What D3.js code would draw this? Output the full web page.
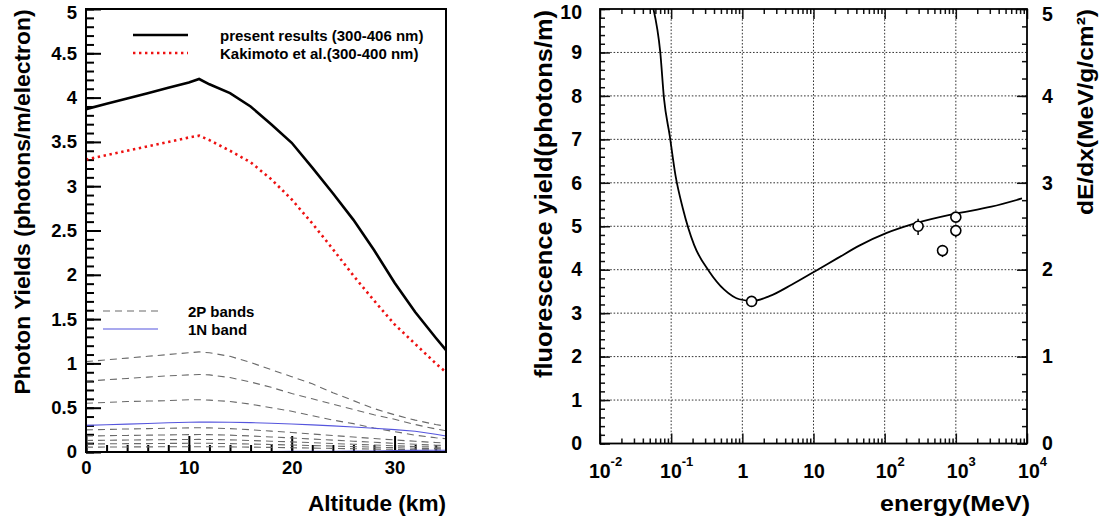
<!DOCTYPE html>
<html>
<head>
<meta charset="utf-8">
<script src="https://cdn.jsdelivr.net/npm/d3@7"></script>
<style>
  html, body { margin: 0; padding: 0; background: #fff; }
  svg { display: block; }
  text { font-family: "Liberation Sans", Arial, Helvetica, sans-serif; font-weight: bold; fill: #000; }
</style>
</head>
<body>
<svg id="chart" width="1112" height="524"></svg>
<script>
// ---------------- Left panel data ----------------
const altitude = [0, 2, 4, 6, 8, 10, 11, 12, 14, 16, 18, 20, 22, 24, 26, 28, 30, 32, 34, 35];
const presentResults = [3.87, 3.93, 3.99, 4.05, 4.11, 4.17, 4.21, 4.15, 4.05, 3.90, 3.70, 3.49, 3.21, 2.92, 2.62, 2.28, 1.91, 1.58, 1.29, 1.15];
const kakimoto = [3.30, 3.35, 3.40, 3.45, 3.50, 3.55, 3.57, 3.52, 3.40, 3.27, 3.08, 2.85, 2.58, 2.29, 1.99, 1.71, 1.44, 1.22, 1.00, 0.90];
const p2Band1 = [1.02, 1.04, 1.06, 1.08, 1.10, 1.12, 1.13, 1.12, 1.08, 1.01, 0.93, 0.85, 0.77, 0.67, 0.58, 0.49, 0.42, 0.36, 0.31, 0.29];
const p2Band2 = [0.80, 0.815, 0.83, 0.845, 0.86, 0.87, 0.875, 0.87, 0.84, 0.79, 0.73, 0.66, 0.60, 0.54, 0.48, 0.42, 0.37, 0.31, 0.26, 0.24];
const p2Band3 = [0.55, 0.56, 0.57, 0.575, 0.58, 0.59, 0.59, 0.585, 0.57, 0.54, 0.50, 0.46, 0.41, 0.36, 0.32, 0.27, 0.23, 0.19, 0.16, 0.15];
const p2Band4 = [0.25, 0.255, 0.26, 0.264, 0.268, 0.272, 0.274, 0.272, 0.264, 0.251, 0.236, 0.22, 0.203, 0.186, 0.169, 0.152, 0.136, 0.121, 0.107, 0.10];
const p2Band5 = [0.18, 0.184, 0.187, 0.19, 0.193, 0.196, 0.197, 0.196, 0.19, 0.181, 0.17, 0.158, 0.146, 0.134, 0.122, 0.11, 0.098, 0.087, 0.077, 0.072];
const p2Band6 = [0.13, 0.133, 0.135, 0.137, 0.139, 0.141, 0.142, 0.141, 0.137, 0.13, 0.122, 0.114, 0.105, 0.096, 0.087, 0.079, 0.07, 0.062, 0.055, 0.052];
const p2Band7 = [0.09, 0.092, 0.094, 0.095, 0.097, 0.098, 0.099, 0.098, 0.095, 0.09, 0.085, 0.079, 0.073, 0.067, 0.061, 0.055, 0.049, 0.043, 0.038, 0.036];
const p2Band8 = [0.055, 0.056, 0.057, 0.058, 0.059, 0.06, 0.06, 0.06, 0.058, 0.055, 0.052, 0.048, 0.044, 0.041, 0.037, 0.033, 0.03, 0.026, 0.023, 0.022];
const n1Band = [0.30, 0.307, 0.315, 0.322, 0.33, 0.335, 0.337, 0.337, 0.336, 0.332, 0.325, 0.316, 0.306, 0.295, 0.282, 0.268, 0.253, 0.234, 0.20, 0.18];
const n1BandB = [0.006, 0.006, 0.006, 0.006, 0.006, 0.006, 0.006, 0.006, 0.006, 0.006, 0.006, 0.007, 0.008, 0.009, 0.01, 0.012, 0.015, 0.018, 0.02, 0.02];
const leftYTicks = [0, 0.5, 1, 1.5, 2, 2.5, 3, 3.5, 4, 4.5, 5];
const leftXTicks = [0, 10, 20, 30];
const legendTop = ["present results (300-406 nm)", "Kakimoto et al.(300-400 nm)"];
const legendBottom = ["2P bands", "1N band"];

// ---------------- Right panel data ----------------
const energyMeV = [0.0564, 0.0703, 0.0794, 0.0953, 0.115, 0.146, 0.21, 0.342, 0.557, 0.908, 1.39, 2.40, 4.99, 10.4, 21.5, 44.7, 105, 275, 933, 3162, 8511];
const yieldCurve = [10.0, 9.0, 7.93, 7.09, 6.17, 5.41, 4.57, 3.96, 3.54, 3.32, 3.28, 3.39, 3.66, 3.96, 4.26, 4.56, 4.84, 5.07, 5.28, 5.45, 5.64];
const pointE = [1.35, 295, 650, 1000, 1000];
const pointY = [3.27, 5.00, 4.44, 5.21, 4.90];
const pointLo = [3.20, 4.80, 4.29, 5.09, 4.75];
const pointHi = [3.34, 5.17, 4.57, 5.33, 5.02];
const rightYTicks = [0, 1, 2, 3, 4, 5, 6, 7, 8, 9, 10];
const dedxTicks = [0, 1, 2, 3, 4, 5];
const energyTicks = [1e-2, 1e-1, 1, 10, 1e2, 1e3, 1e4];
const energyTickLabels = [["10", "-2"], ["10", "-1"], ["1", ""], ["10", ""], ["10", "2"], ["10", "3"], ["10", "4"]];

const svg = d3.select("#chart");
svg.append("rect").attr("width", 1112).attr("height", 524).attr("fill", "#fff");

// keep top-most tick labels fully inside the picture
function keepInside(g, topLimit) {
  g.selectAll(".tick").each(function () {
    const tr = d3.select(this).attr("transform");
    const m = /translate\(([^,]+),([^)]+)\)/.exec(tr);
    if (m && +m[2] < topLimit) d3.select(this).select("text").attr("y", topLimit - +m[2]);
  });
}

// ================= LEFT PANEL =================
const L = { x0: 86, x1: 446, y0: 9, y1: 452 };
const xA = d3.scaleLinear().domain([0, 35]).range([L.x0, L.x1]);
const yA = d3.scaleLinear().domain([0, 5]).range([L.y1, L.y0]);
const gl = svg.append("g");

const yMinor = gl.append("g").attr("transform", `translate(${L.x0},0)`)
  .call(d3.axisLeft(yA).tickValues(d3.range(0, 5.001, 0.1)).tickSizeInner(-8).tickSizeOuter(0).tickFormat(""));
const yMajor = gl.append("g").attr("transform", `translate(${L.x0},0)`)
  .call(d3.axisLeft(yA).tickValues(leftYTicks).tickSizeInner(-15).tickSizeOuter(0).tickPadding(9).tickFormat(d3.format("")));
const xMinor = gl.append("g").attr("transform", `translate(0,${L.y1})`)
  .call(d3.axisBottom(xA).tickValues(d3.range(0, 35, 2)).tickSizeInner(-7).tickSizeOuter(0).tickFormat(""));
const xMajor = gl.append("g").attr("transform", `translate(0,${L.y1})`)
  .call(d3.axisBottom(xA).tickValues(leftXTicks).tickSizeInner(-16).tickSizeOuter(0).tickPadding(9).tickFormat(d3.format("d")));
[yMinor, yMajor, xMinor, xMajor].forEach(g => {
  g.select(".domain").remove();
  g.selectAll("line").attr("stroke", "#000").attr("stroke-width", 2);
  g.selectAll("text").attr("font-size", 18.5).attr("font-family", null).attr("font-weight", "bold");
});
xMajor.selectAll("text").attr("dy", "0.71em");
keepInside(yMajor, 13);

const lineA = d3.line().x((d, i) => xA(altitude[i])).y(d => yA(d));
const clipL = svg.append("clipPath").attr("id", "clipL");
clipL.append("rect").attr("x", L.x0).attr("y", L.y0).attr("width", L.x1 - L.x0).attr("height", L.y1 - L.y0);
const lines = gl.append("g").attr("clip-path", "url(#clipL)");

const dashed = [p2Band1, p2Band2, p2Band3, p2Band4, p2Band5, p2Band6, p2Band7, p2Band8];
dashed.forEach(s => lines.append("path").attr("d", lineA(s)).attr("fill", "none")
  .attr("stroke", "#6a6a6a").attr("stroke-width", 1.1).attr("stroke-dasharray", "7,5"));
[n1Band, n1BandB].forEach(s => lines.append("path").attr("d", lineA(s)).attr("fill", "none")
  .attr("stroke", "#5555dd").attr("stroke-width", 1.1));
lines.append("path").attr("d", lineA(kakimoto)).attr("fill", "none")
  .attr("stroke", "#ee1111").attr("stroke-width", 2.6).attr("stroke-dasharray", "2.4,3.6");
lines.append("path").attr("d", lineA(presentResults)).attr("fill", "none")
  .attr("stroke", "#000").attr("stroke-width", 2.6);

gl.append("rect").attr("x", L.x0).attr("y", L.y0).attr("width", L.x1 - L.x0).attr("height", L.y1 - L.y0)
  .attr("fill", "none").attr("stroke", "#000").attr("stroke-width", 2);

const lg = gl.append("g");
lg.append("line").attr("x1", 133).attr("x2", 188).attr("y1", 35).attr("y2", 35).attr("stroke", "#000").attr("stroke-width", 2.6);
lg.append("line").attr("x1", 133).attr("x2", 188).attr("y1", 53).attr("y2", 53).attr("stroke", "#ee1111").attr("stroke-width", 2.6).attr("stroke-dasharray", "2.4,3.6");
lg.append("text").attr("x", 220).attr("y", 41).attr("font-size", 15).text(legendTop[0]);
lg.append("text").attr("x", 220).attr("y", 59).attr("font-size", 15).text(legendTop[1]);
lg.append("line").attr("x1", 103).attr("x2", 158).attr("y1", 311).attr("y2", 311).attr("stroke", "#6a6a6a").attr("stroke-width", 1.1).attr("stroke-dasharray", "7,5");
lg.append("line").attr("x1", 103).attr("x2", 158).attr("y1", 329).attr("y2", 329).attr("stroke", "#5555dd").attr("stroke-width", 1.1);
lg.append("text").attr("x", 188).attr("y", 317).attr("font-size", 15).text(legendBottom[0]);
lg.append("text").attr("x", 188).attr("y", 335).attr("font-size", 15).text(legendBottom[1]);

gl.append("text").attr("transform", "translate(30,202) rotate(-90)").attr("text-anchor", "middle")
  .attr("font-size", 22.5).attr("textLength", 385).attr("lengthAdjust", "spacingAndGlyphs")
  .text("Photon Yields (photons/m/electron)");
gl.append("text").attr("x", 446).attr("y", 511).attr("text-anchor", "end").attr("font-size", 22.5)
  .attr("textLength", 138).attr("lengthAdjust", "spacingAndGlyphs").text("Altitude (km)");

// ================= RIGHT PANEL =================
const R = { x0: 600, x1: 1027, y0: 9, y1: 443.5 };
const xE = d3.scaleLog().domain([1e-2, 1e4]).range([R.x0, R.x1]);
const yF = d3.scaleLinear().domain([0, 10]).range([R.y1, R.y0]);
const yD = d3.scaleLinear().domain([0, 5]).range([R.y1, R.y0]);
const gr = svg.append("g");

gr.append("g").selectAll("line").data(d3.range(1, 10)).join("line")
  .attr("x1", R.x0).attr("x2", R.x1).attr("y1", d => yF(d)).attr("y2", d => yF(d))
  .attr("stroke", "#333").attr("stroke-width", 1).attr("stroke-dasharray", "1.6,1.8");
gr.append("g").selectAll("line").data(energyTicks.slice(1, -1)).join("line")
  .attr("x1", d => xE(d)).attr("x2", d => xE(d)).attr("y1", R.y0).attr("y2", R.y1)
  .attr("stroke", "#333").attr("stroke-width", 1).attr("stroke-dasharray", "1.6,1.8");

const minorE = [];
for (let p = -2; p < 4; p++) for (let m = 2; m <= 9; m++) minorE.push(m * Math.pow(10, p));

function styleAxis(g, size) {
  g.select(".domain").remove();
  g.selectAll("line").attr("stroke", "#111").attr("stroke-width", 1.5);
  g.selectAll("text").attr("font-size", size).attr("font-family", null).attr("font-weight", "bold");
}
const rl1 = gr.append("g").attr("transform", `translate(${R.x0},0)`)
  .call(d3.axisLeft(yF).tickValues(d3.range(0, 10.001, 0.2)).tickSizeInner(-5).tickSizeOuter(0).tickFormat(""));
const rl2 = gr.append("g").attr("transform", `translate(${R.x0},0)`)
  .call(d3.axisLeft(yF).tickValues(rightYTicks).tickSizeInner(-10).tickSizeOuter(0).tickPadding(18).tickFormat(d3.format("d")));
const rr1 = gr.append("g").attr("transform", `translate(${R.x1},0)`)
  .call(d3.axisRight(yD).tickValues(d3.range(0, 5.001, 0.2)).tickSizeInner(-5).tickSizeOuter(0).tickFormat(""));
const rr2 = gr.append("g").attr("transform", `translate(${R.x1},0)`)
  .call(d3.axisRight(yD).tickValues(dedxTicks).tickSizeInner(-10).tickSizeOuter(0).tickPadding(15).tickFormat(d3.format("d")));
const rb1 = gr.append("g").attr("transform", `translate(0,${R.y1})`)
  .call(d3.axisBottom(xE).tickValues(minorE).tickSizeInner(-5).tickSizeOuter(0).tickFormat(""));
const rb2 = gr.append("g").attr("transform", `translate(0,${R.y1})`)
  .call(d3.axisBottom(xE).tickValues(energyTicks).tickSizeInner(-10).tickSizeOuter(0).tickPadding(10).tickFormat((d, i) => i));
const rt1 = gr.append("g").attr("transform", `translate(0,${R.y0})`)
  .call(d3.axisTop(xE).tickValues(minorE).tickSizeInner(-5).tickSizeOuter(0).tickFormat(""));
const rt2 = gr.append("g").attr("transform", `translate(0,${R.y0})`)
  .call(d3.axisTop(xE).tickValues(energyTicks).tickSizeInner(-10).tickSizeOuter(0).tickFormat(""));
[rl1, rl2, rr1, rr2, rb1, rb2, rt1, rt2].forEach(g => styleAxis(g, 19.5));
keepInside(rl2, 13);
keepInside(rr2, 15);

rb2.selectAll(".tick text").each(function (d, i) {
  const t = d3.select(this);
  const lab = energyTickLabels[i];
  t.text(null).attr("dy", null).attr("y", 34.5).attr("text-anchor", "middle")
    .attr("x", lab[1] ? 5 : 0);
  t.append("tspan").text(lab[0]);
  if (lab[1]) t.append("tspan").attr("font-size", 13).attr("dy", -12).text(lab[1]);
});

const clipR = svg.append("clipPath").attr("id", "clipR");
clipR.append("rect").attr("x", R.x0).attr("y", R.y0).attr("width", R.x1 - R.x0).attr("height", R.y1 - R.y0);
const curve = d3.line().x((d, i) => xE(energyMeV[i])).y(d => yF(d)).curve(d3.curveMonotoneX);
gr.append("path").attr("clip-path", "url(#clipR)").attr("d", curve(yieldCurve))
  .attr("fill", "none").attr("stroke", "#000").attr("stroke-width", 1.8);

const pts = gr.append("g");
pts.selectAll("line").data(pointE).join("line")
  .attr("x1", d => xE(d)).attr("x2", d => xE(d))
  .attr("y1", (d, i) => yF(pointLo[i])).attr("y2", (d, i) => yF(pointHi[i]))
  .attr("stroke", "#000").attr("stroke-width", 1.5);
pts.selectAll("circle").data(pointE).join("circle")
  .attr("cx", d => xE(d)).attr("cy", (d, i) => yF(pointY[i])).attr("r", 5)
  .attr("fill", "#fff").attr("stroke", "#000").attr("stroke-width", 1.6);

gr.append("rect").attr("x", R.x0).attr("y", R.y0).attr("width", R.x1 - R.x0).attr("height", R.y1 - R.y0)
  .attr("fill", "none").attr("stroke", "#000").attr("stroke-width", 1.8);

gr.append("text").attr("transform", "translate(552,194) rotate(-90)").attr("text-anchor", "middle")
  .attr("font-size", 23).attr("textLength", 368).attr("lengthAdjust", "spacingAndGlyphs")
  .text("fluorescence yield(photons/m)");
gr.append("text").attr("transform", "translate(1093,112) rotate(-90)").attr("text-anchor", "middle")
  .attr("font-size", 22).attr("textLength", 206).attr("lengthAdjust", "spacingAndGlyphs")
  .text("dE/dx(MeV/g/cm²)");
gr.append("text").attr("x", 1030).attr("y", 511).attr("text-anchor", "end").attr("font-size", 22)
  .attr("textLength", 150).attr("lengthAdjust", "spacingAndGlyphs").text("energy(MeV)");
</script>
</body>
</html>
